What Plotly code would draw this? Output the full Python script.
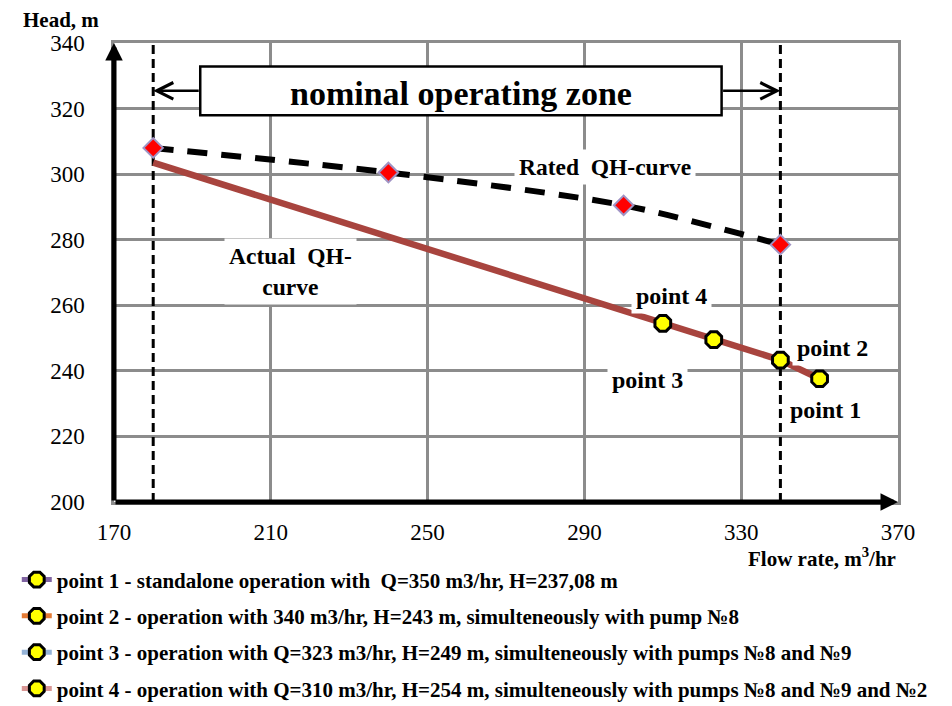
import plotly.graph_objects as go

# ---- data ----
rated_q = [180, 240, 300, 340]
rated_h = [308, 300.5, 290.5, 278.5]
actual_q = [180, 310, 323, 340, 350]
actual_h = [303.5, 254.5, 249.5, 243.3, 237.6]
point_q = [350, 340, 323, 310]
point_h = [237.6, 243.3, 249.5, 254.5]
point_names = [
    "point 1 - standalone operation with  Q=350 m3/hr, H=237,08 m",
    "point 2 - operation with 340 m3/hr, H=243 m, simulteneously with pump №8",
    "point 3 - operation with Q=323 m3/hr, H=249 m, simulteneously with pumps №8 and №9",
    "point 4 - operation with Q=310 m3/hr, H=254 m, simulteneously with pumps №8 and №9 and №2",
]
point_colors = ["#8064A2", "#E47B35", "#95B3D7", "#D99694"]
zone_q = [180, 340]
x_ticks = [170, 210, 250, 290, 330, 370]
y_ticks = [200, 220, 240, 260, 280, 300, 320, 340]

SERIF = "Liberation Serif"

fig = go.Figure()

# actual QH curve
fig.add_trace(go.Scatter(x=actual_q, y=actual_h, mode="lines",
                         line=dict(color="#A8443E", width=6.5),
                         showlegend=False, hoverinfo="skip"))
# rated QH curve
fig.add_trace(go.Scatter(x=rated_q, y=rated_h, mode="lines+markers",
                         line=dict(color="black", width=6, dash="20px,14px",
                                   shape="spline", smoothing=0.8),
                         marker=dict(symbol="diamond", size=15, color="#FF0000",
                                     line=dict(color="#A093C4", width=2)),
                         showlegend=False, hoverinfo="skip"))
# operating points
for i in range(4):
    fig.add_trace(go.Scatter(x=[point_q[i]], y=[point_h[i]], mode="lines+markers",
                             name=point_names[i], legendgroup="g%d" % i,
                             line=dict(color=point_colors[i], width=5),
                             marker=dict(symbol="octagon", size=17, color="#FFFF00",
                                         line=dict(color="black", width=3))))

shapes = []
for q in zone_q:
    shapes.append(dict(type="line", xref="x", yref="y", x0=q, x1=q, y0=200, y1=340,
                       line=dict(color="black", width=3, dash="9px,5px"), layer="between"))
# nominal zone box
shapes.append(dict(type="rect", xref="x", yref="y", x0=192, x1=325, y0=318, y1=332.8,
                   line=dict(color="black", width=2.5), fillcolor="white", layer="above"))
fig.update_layout(shapes=shapes)

ann = []
# axes arrows
ann.append(dict(x=170, y=340, ax=170, ay=200, xref="x", yref="y", axref="x", ayref="y",
                text="", showarrow=True, arrowhead=2, arrowsize=0.7, arrowwidth=5,
                arrowcolor="black"))
ann.append(dict(x=370, y=200, ax=170, ay=200, xref="x", yref="y", axref="x", ayref="y",
                text="", showarrow=True, arrowhead=2, arrowsize=0.7, arrowwidth=5,
                arrowcolor="black"))
# zone arrows
ann.append(dict(x=zone_q[0], y=325.4, ax=192, ay=325.4, xref="x", yref="y", axref="x", ayref="y",
                text="", showarrow=True, arrowhead=5, arrowsize=1.3, arrowwidth=2.5,
                arrowcolor="black"))
ann.append(dict(x=zone_q[1], y=325.4, ax=325, ay=325.4, xref="x", yref="y", axref="x", ayref="y",
                text="", showarrow=True, arrowhead=5, arrowsize=1.3, arrowwidth=2.5,
                arrowcolor="black"))

def label(text, x, y, size=24, bg="white"):
    ann.append(dict(x=x, y=y, xref="x", yref="y", text=text, showarrow=False,
                    font=dict(family=SERIF, size=size, color="black", weight="bold"),
                    bgcolor=bg, borderpad=4))

label("nominal operating zone", 258.5, 324.6, size=34, bg="rgba(0,0,0,0)")
label("Rated  QH-curve", 295.3, 302.2, size=23.5)
label("Actual  QH-<br>curve", 214.9, 270.2, size=23.5)
label("point 4", 312.1, 262.8)
label("point 3", 306.0, 237.2)
label("point 2", 353.2, 247.0)
label("point 1", 351.6, 228.1)

ann.append(dict(x=-0.0676, y=1.05, xref="paper", yref="paper", xanchor="center", yanchor="middle",
                text="Head, m", showarrow=False,
                font=dict(family=SERIF, size=21, color="black", weight="bold")))
ann.append(dict(x=1.0, y=-0.12, xref="paper", yref="paper", xanchor="right", yanchor="middle",
                text="Flow rate, m<sup>3</sup>/hr", showarrow=False,
                font=dict(family=SERIF, size=21, color="black", weight="bold")))
fig.update_layout(annotations=ann)

fig.update_xaxes(range=[170, 370], tickvals=x_ticks, ticktext=[str(v) for v in x_ticks],
                 showgrid=True, gridcolor="#8C8C8C", gridwidth=2.5, zeroline=False,
                 showline=True, mirror=True, linecolor="#8C8C8C", linewidth=2.5,
                 ticks="", ticklabelstandoff=8,
                 tickfont=dict(family=SERIF, size=23, color="black"))
fig.update_yaxes(range=[200, 340], tickvals=y_ticks, ticktext=[str(v) for v in y_ticks],
                 showgrid=True, gridcolor="#8C8C8C", gridwidth=2.5, zeroline=False,
                 showline=True, mirror=True, linecolor="#8C8C8C", linewidth=2.5,
                 ticks="", ticklabelstandoff=22,
                 tickfont=dict(family=SERIF, size=23, color="black"))

fig.update_layout(
    width=944, height=698,
    margin=dict(l=106, r=54, t=35, b=204, autoexpand=False),
    paper_bgcolor="white", plot_bgcolor="white",
    showlegend=True,
    legend=dict(x=-0.124, y=-0.125,
                xanchor="left", yanchor="top", orientation="v",
                font=dict(family=SERIF, size=21, color="black", weight="bold"),
                tracegroupgap=6, bgcolor="rgba(0,0,0,0)", itemsizing="trace"),
)

fig.write_html("out.html")
